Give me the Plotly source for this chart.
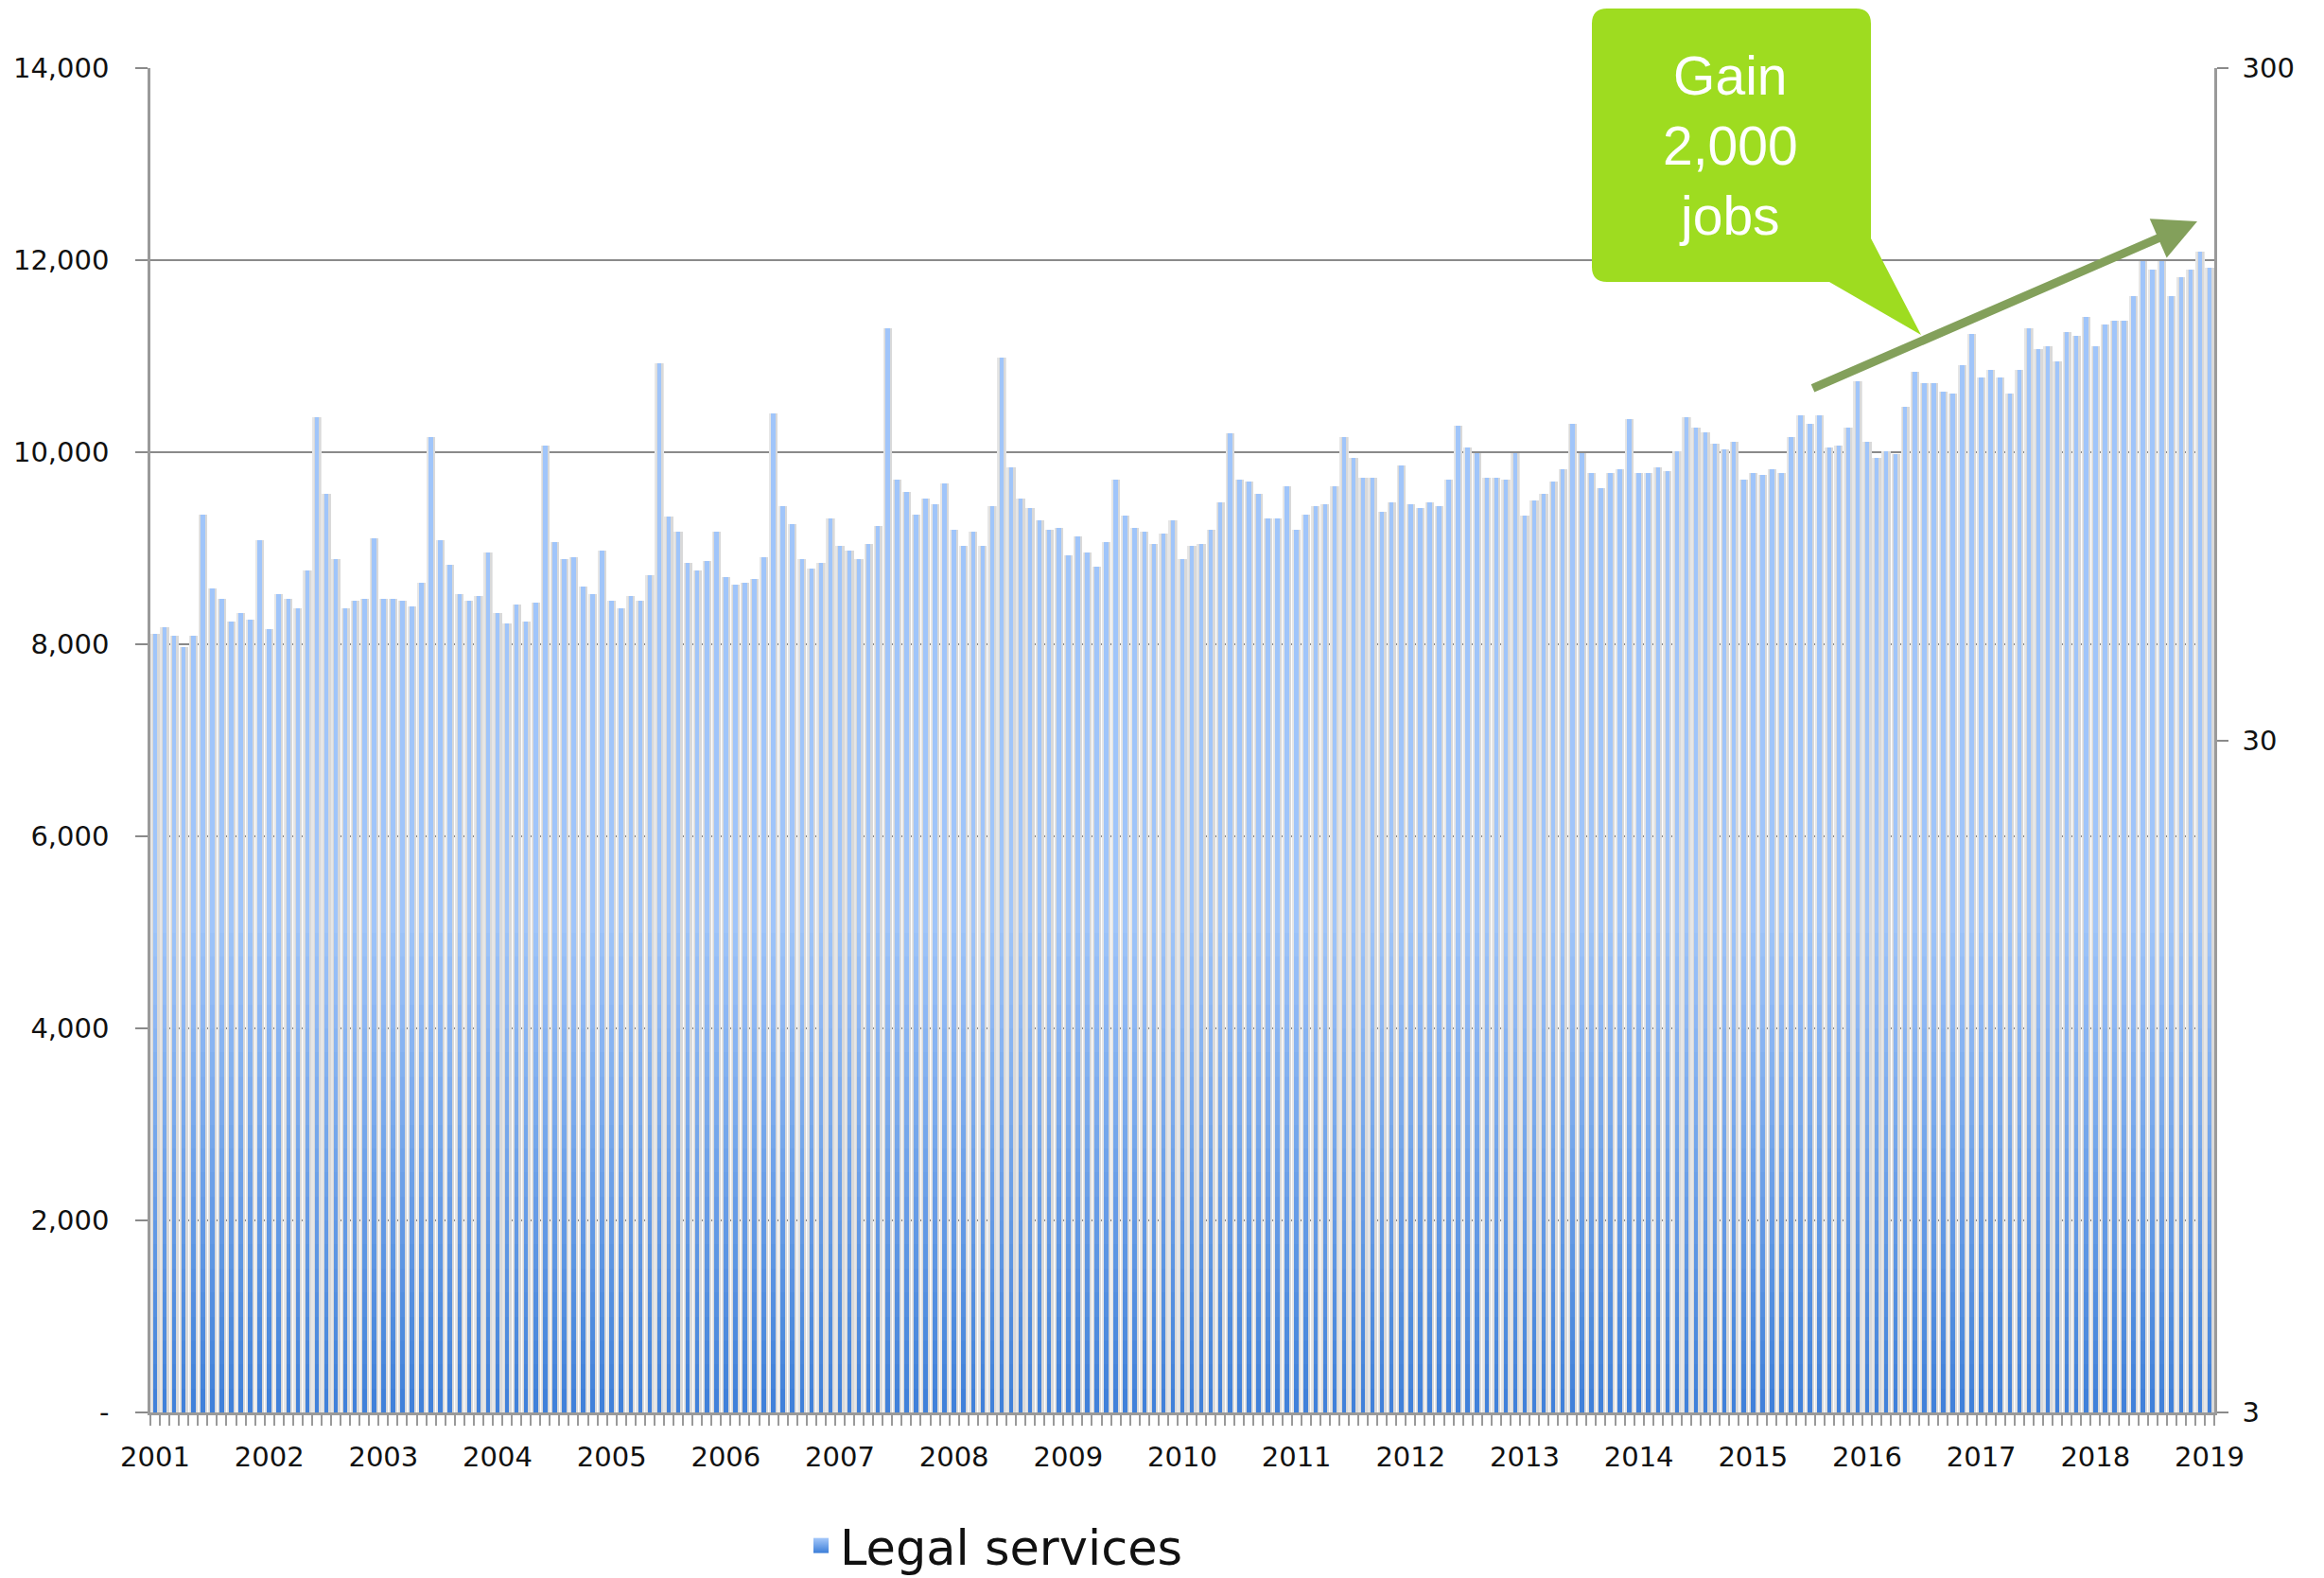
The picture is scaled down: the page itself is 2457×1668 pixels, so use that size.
import plotly.graph_objects as go
import numpy as np

# ---------------- data ----------------
years = [str(y) for y in range(2001, 2020)]
months = [f"{y}-{m:02d}" for y in range(2001, 2019) for m in range(1, 13)] + ["2019-01"]

legal_services = [
    8110, 8180, 8090, 7970, 8090, 9350, 8580, 8470, 8240, 8330, 8260, 9080,   # 2001
    8160, 8520, 8470, 8370, 8770, 10360, 9570, 8890, 8370, 8450, 8470, 9100,  # 2002
    8470, 8470, 8450, 8390, 8640, 10160, 9080, 8830, 8520, 8450, 8500, 8960,  # 2003
    8330, 8220, 8410, 8240, 8430, 10070, 9060, 8890, 8910, 8600, 8520, 8980,  # 2004
    8450, 8370, 8500, 8450, 8720, 10930, 9330, 9170, 8850, 8770, 8870, 9170,  # 2005
    8700, 8620, 8640, 8680, 8910, 10400, 9440, 9250, 8890, 8790, 8850, 9310,  # 2006
    9020, 8980, 8890, 9040, 9230, 11290, 9710, 9590, 9350, 9520, 9460, 9670,  # 2007
    9190, 9020, 9170, 9020, 9440, 10990, 9840, 9520, 9420, 9290, 9190, 9210,  # 2008
    8930, 9120, 8960, 8810, 9060, 9710, 9340, 9210, 9170, 9040, 9150, 9290,   # 2009
    8890, 9020, 9040, 9190, 9480, 10200, 9710, 9690, 9570, 9310, 9310, 9650,  # 2010
    9190, 9350, 9440, 9460, 9650, 10160, 9940, 9730, 9730, 9380, 9480, 9860,  # 2011
    9460, 9420, 9480, 9440, 9710, 10280, 10050, 9990, 9730, 9730, 9710, 9990, # 2012
    9340, 9500, 9570, 9690, 9820, 10300, 9990, 9780, 9630, 9780, 9820, 10340, # 2013
    9780, 9780, 9840, 9800, 10010, 10360, 10260, 10210, 10090, 10030, 10110, 9710,  # 2014
    9780, 9760, 9820, 9780, 10160, 10380, 10300, 10380, 10050, 10070, 10260, 10740, # 2015
    10110, 9940, 10010, 9980, 10470, 10840, 10720, 10720, 10630, 10610, 10910, 11230, # 2016
    10780, 10860, 10780, 10610, 10860, 11290, 11070, 11100, 10950, 11250, 11210, 11410, # 2017
    11100, 11330, 11370, 11370, 11630, 11990, 11900, 11990, 11630, 11820, 11900, 12090, # 2018
    11920,  # 2019-01
]

left_ticks = [0, 2000, 4000, 6000, 8000, 10000, 12000, 14000]
left_ticktext = ["-", "2,000", "4,000", "6,000", "8,000", "10,000", "12,000", "14,000"]
right_ticks = [3, 30, 300]
right_ticktext = ["3", "30", "300"]

series_name = "Legal services"
callout_text = "Gain<br>2,000<br>jobs"

# ---------------- geometry / style ----------------
W, H = 2457, 1668
L, R, T, B = 159, 116, 72, 175
PW, PH = W - L - R, H - T - B


def px(x):
    return (x - L) / PW


def py(y):
    return (T + PH - y) / PH


FONT = "DejaVu Sans"
GRID = "#8a8a8a"
AXIS = "#9a9a9a"
TXT = "#111111"

x_idx = list(range(len(months)))
vals = np.array(legal_services, dtype=float)

fig = go.Figure()

# soft shadow behind the bars
fig.add_trace(go.Bar(
    x=x_idx, y=vals, width=0.92, marker=dict(color="#e6e6e6", line=dict(width=0)),
    showlegend=False, hoverinfo="skip",
))
fig.add_trace(go.Bar(
    x=x_idx, y=vals, width=0.75, marker=dict(color="#d9d9d9", line=dict(width=0)),
    showlegend=False, hoverinfo="skip", offset=-0.3,
))

# stepped vertical gradient of the bars (light top -> darker bottom)
light = np.array([160, 197, 250])
dark = np.array([60, 126, 216])
levels = [None] + list(np.arange(5000, 0, -250))
for k, h in enumerate(levels):
    if h is None:
        yv = vals
        t = 1.0
    else:
        yv = np.minimum(vals, h)
        t = h / 5250.0
    c = dark + (light - dark) * t
    col = "rgb(%d,%d,%d)" % tuple(c.round().astype(int))
    fig.add_trace(go.Bar(
        x=x_idx, y=yv, width=0.45,
        marker=dict(color=col, line=dict(width=0)),
        name=series_name, showlegend=False,
        hovertext=months, hoverinfo="text+y",
    ))

# legend entry (square swatch with vertical gradient)
fig.add_trace(go.Scatter(
    x=[None], y=[None], name=series_name, mode="markers",
    marker=dict(symbol="square", size=34, color="rgb(165,200,250)",
                gradient=dict(type="vertical", color="rgb(60,126,216)"),
                line=dict(width=0)),
    showlegend=True,
))

# dummy trace to show the secondary (log) axis
fig.add_trace(go.Scatter(x=[None], y=[None], yaxis="y2", showlegend=False, hoverinfo="skip"))

fig.update_layout(
    width=W, height=H,
    margin=dict(l=L, r=R, t=T, b=B, pad=0, autoexpand=False),
    paper_bgcolor="white", plot_bgcolor="white",
    barmode="overlay", bargap=0,
    font=dict(family=FONT, size=29, color=TXT),
    xaxis=dict(
        range=[-0.5, len(months) - 0.5],
        tickmode="array", tickvals=[12 * i for i in range(len(years))], ticktext=years,
        ticks="", showgrid=False, zeroline=False,
        showline=True, linecolor=AXIS, linewidth=2.5,
        tickfont=dict(family=FONT, size=29, color=TXT),
        ticklabelstandoff=19,
        minor=dict(tickmode="linear", tick0=-0.5, dtick=1, ticks="outside",
                   ticklen=11, tickwidth=1.5, tickcolor=AXIS, showgrid=False),
    ),
    yaxis=dict(
        range=[0, 14000], tickmode="array", tickvals=left_ticks, ticktext=left_ticktext,
        showgrid=True, gridcolor=GRID, gridwidth=2, zeroline=False,
        showline=True, linecolor=AXIS, linewidth=2.5,
        ticks="outside", ticklen=13, tickwidth=2, tickcolor=GRID,
        tickfont=dict(family=FONT, size=29, color=TXT),
        ticklabelstandoff=22,
    ),
    yaxis2=dict(
        overlaying="y", side="right", type="log",
        range=[np.log10(3), np.log10(300)],
        tickmode="array", tickvals=right_ticks, ticktext=right_ticktext,
        showgrid=False, zeroline=False,
        showline=True, linecolor=AXIS, linewidth=2.5,
        ticks="outside", ticklen=12, tickwidth=2, tickcolor=GRID,
        tickfont=dict(family=FONT, size=29, color=TXT),
        ticklabelstandoff=9,
    ),
    legend=dict(
        orientation="h", x=px(848), xanchor="left", y=py(1634), yanchor="middle",
        font=dict(family=FONT, size=51, color=TXT),
        bgcolor="rgba(0,0,0,0)", itemwidth=30, itemsizing="trace",
    ),
    hovermode="closest",
)

# callout box with tail (rounded rectangle)
x0, y0, x1, y1, r = 1683, 9, 1978, 298, 16
pts = [
    ("M", x0 + r, y0), ("L", x1 - r, y0), ("Q", x1, y0, x1, y0 + r), ("L", x1, 252),
    ("L", 2031, 354), ("L", 1934, y1), ("L", x0 + r, y1), ("Q", x0, y1, x0, y1 - r),
    ("L", x0, y0 + r), ("Q", x0, y0, x0 + r, y0),
]
path = ""
for p in pts:
    cmd = p[0]
    coords = p[1:]
    segs = []
    for i in range(0, len(coords), 2):
        segs.append("%.5f,%.5f" % (px(coords[i]), py(coords[i + 1])))
    path += cmd + " ".join(segs) + " "
path += "Z"
fig.add_shape(type="path", path=path, xref="paper", yref="paper",
              fillcolor="#9edc20", line=dict(width=0), layer="above")

fig.add_annotation(
    text=callout_text, x=px(1829), y=py(154), xref="paper", yref="paper",
    xanchor="center", yanchor="middle", showarrow=False, align="center",
    font=dict(family="Liberation Sans", size=57, color="white"),
)

# trend arrow
fig.add_annotation(
    text="", x=px(2323), y=py(234), xref="paper", yref="paper",
    ax=1915 - 2323, ay=411 - 234, axref="pixel", ayref="pixel",
    showarrow=True, arrowhead=2, arrowsize=1.0, arrowwidth=9, arrowcolor="#83a05b",
    standoff=0, startstandoff=0,
)

fig.write_html("out.html", config={"displayModeBar": False},
               post_script="document.body.style.margin='0';document.body.style.overflow='hidden';")
